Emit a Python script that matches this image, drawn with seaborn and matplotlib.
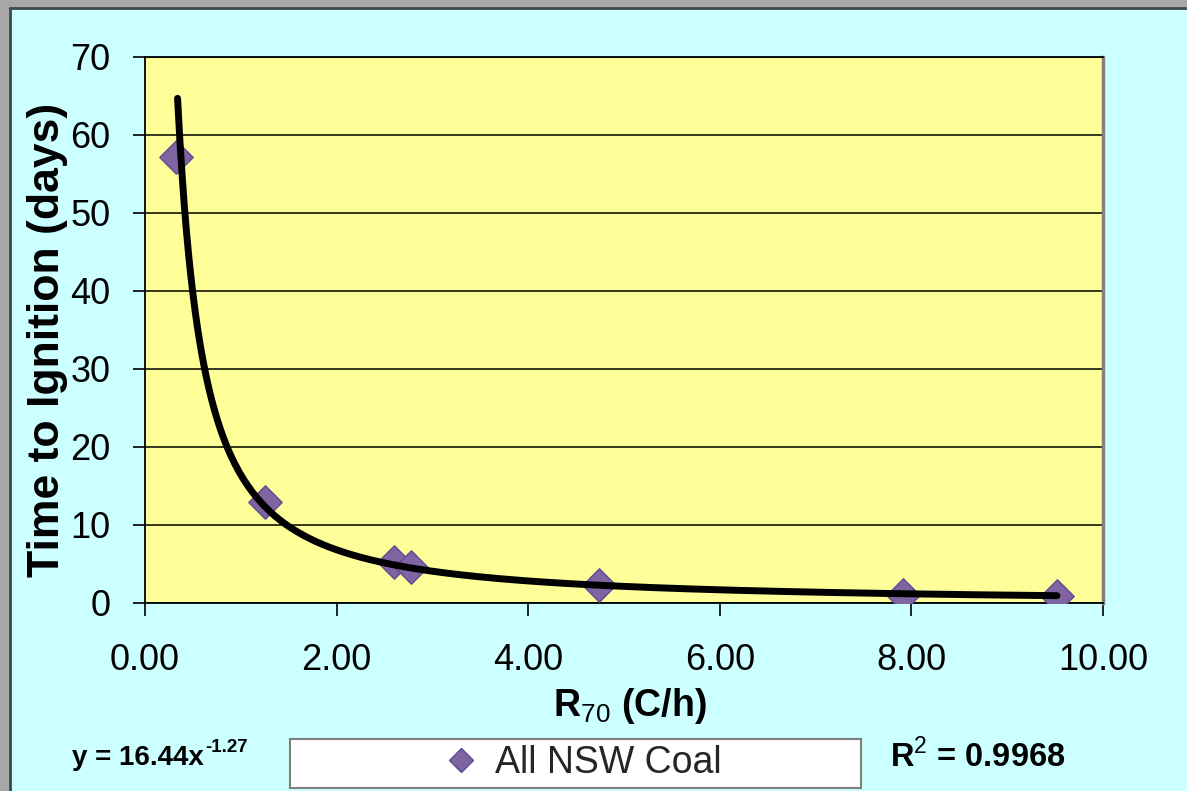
import numpy as np
import pandas as pd
import matplotlib
matplotlib.use("Agg")
import matplotlib.pyplot as plt
from matplotlib.patches import Rectangle
from matplotlib.lines import Line2D
import seaborn as sns

# ---- data ----
r70 = [0.32, 1.25, 2.60, 2.78, 4.74, 7.91, 9.52]
days = [57.2, 13.0, 5.3, 4.6, 2.3, 1.0, 0.9]
series_name = "All NSW Coal"
fit_a = 16.44
fit_b = -1.27
r_squared = 0.9968
x_ticks = [0, 2, 4, 6, 8, 10]
y_ticks = [0, 10, 20, 30, 40, 50, 60, 70]

sns.set_theme(style="white")
plt.rcParams["font.family"] = ["Liberation Sans", "DejaVu Sans"]
plt.rcParams["mathtext.fontset"] = "custom"
plt.rcParams["mathtext.rm"] = "Liberation Sans"
plt.rcParams["mathtext.bf"] = "Liberation Sans:bold"

W, H = 1187, 791
fig = plt.figure(figsize=(W / 100, H / 100), dpi=100)
fig.patch.set_facecolor("#CCFFFF")

# window-like frame on left and top
fig.patches.append(Rectangle((0, 0), 10 / W, 1, transform=fig.transFigure,
                             facecolor="#A8A8A8", edgecolor="none", zorder=0))
fig.patches.append(Rectangle((0, 1 - 8 / H), 1, 8 / H, transform=fig.transFigure,
                             facecolor="#A8A8A8", edgecolor="none", zorder=0))
fig.lines.append(Line2D([10 / W, 10 / W], [0, 1 - 8 / H], transform=fig.transFigure,
                        color="#3A4A4A", lw=2))
fig.lines.append(Line2D([10 / W, 1], [1 - 8 / H, 1 - 8 / H], transform=fig.transFigure,
                        color="#3A4A4A", lw=2))

left, right = 145 / W, 1103 / W
bottom, top = 1 - 603 / H, 1 - 57 / H
ax = fig.add_axes([left, bottom, right - left, top - bottom])
ax.set_facecolor("#FFFF99")

df = pd.DataFrame({"R70": r70, "Days": days})
xs = np.linspace(0.34, max(r70), 400)
fit_df = pd.DataFrame({"R70": xs, "Days": fit_a * xs ** fit_b})

sns.scatterplot(data=df, x="R70", y="Days", ax=ax, marker="D", s=17 ** 2,
                color="#8064A2", edgecolor="#5E4C94", linewidth=1.0, zorder=3,
                legend=False)
sns.lineplot(data=fit_df, x="R70", y="Days", ax=ax, color="black", lw=5,
             zorder=4, solid_capstyle="round", legend=False)

ax.set_xlim(0, 10)
ax.set_ylim(0, 70)
ax.set_xticks(x_ticks)
ax.set_xticklabels([f"{v:.2f}" for v in x_ticks])
ax.set_yticks(y_ticks)
ax.set_yticklabels([str(v) for v in y_ticks])
ax.yaxis.grid(True, color="black", lw=1.1)
ax.xaxis.grid(False)
ax.set_axisbelow(True)
ax.tick_params(axis="both", which="major", direction="out", length=9, width=1.2,
               color="black", labelsize=26, labelcolor="black", left=True, bottom=True)
ax.tick_params(axis="y", pad=16)
ax.tick_params(axis="x", pad=20)
for s in ["left", "bottom", "top"]:
    ax.spines[s].set_color("black")
    ax.spines[s].set_linewidth(1.3)
ax.spines["right"].set_color("#808080")
ax.spines["right"].set_linewidth(2.5)

ax.set_xlabel(r"R$_{\mathrm{70}}$ (C/h)", fontsize=27, fontweight="bold", color="black")
ax.set_ylabel("Time to Ignition (days)", fontsize=32, fontweight="bold", color="black")
ax.xaxis.set_label_coords(0.506, -0.152)
ax.yaxis.set_label_coords(-0.080, 0.482)

# equation (main text + superscript) and R^2
eq = fig.text(72 / W, 1 - 758 / H, f"y = {fit_a:.2f}x", fontsize=20,
              fontweight="bold", ha="left", va="center", color="black")
fig.canvas.draw()
bb = eq.get_window_extent(renderer=fig.canvas.get_renderer())
fig.text((bb.x1 + 1) / W, 1 - 748 / H, f"{fit_b:.2f}", fontsize=13.5,
         fontweight="bold", ha="left", va="center", color="black")
fig.text(890 / W, 1 - 757 / H, r"R$^{\mathrm{2}}$ = " + f"{r_squared:.4f}", fontsize=23.5,
         fontweight="bold", ha="left", va="center", color="black")

# legend box
fig.patches.append(Rectangle((290 / W, 1 - 788 / H), (861 - 290) / W, (788 - 739) / H,
                             transform=fig.transFigure, facecolor="white",
                             edgecolor="#7F7F7F", lw=1.5, zorder=1))
handle = Line2D([], [], marker="D", linestyle="none", markersize=12.5,
                markerfacecolor="#8064A2", markeredgecolor="#5E4C94")
fig.legend([handle], [series_name], loc="center",
           bbox_to_anchor=(582 / W, 1 - 763 / H),
           bbox_transform=fig.transFigure, frameon=False, fontsize=27,
           handletextpad=0.4, handlelength=1.0)

fig.savefig("out.png", dpi=100, facecolor=fig.get_facecolor())
